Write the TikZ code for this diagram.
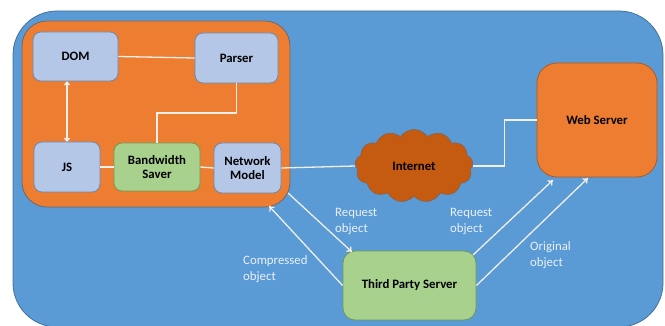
\documentclass[tikz,border=0pt]{standalone}
\usepackage{fontspec}
\setmainfont{Carlito}
\usetikzlibrary{shapes.symbols,arrows.meta}
\definecolor{skyblue}{HTML}{5B9BD5}
\definecolor{skyedge}{HTML}{41719C}
\definecolor{orangefill}{HTML}{ED7D31}
\definecolor{orangeedge}{HTML}{AE5A21}
\definecolor{paleblue}{HTML}{B4C7E7}
\definecolor{paleedge}{HTML}{6A8BB5}
\definecolor{palegreen}{HTML}{A9D18E}
\definecolor{greenedge}{HTML}{6E9A55}
\definecolor{rust}{HTML}{C55A11}
\definecolor{linklight}{HTML}{F2EEEA}
\definecolor{labellight}{HTML}{EAF0F8}
\tikzset{
  comp/.style={draw=paleedge, line width=0.8pt, fill=paleblue, rounded corners=8pt,
    inner sep=0pt, align=center, font=\fontsize{12.8}{14.5}\selectfont\bfseries},
  saver/.style={comp, draw=greenedge, fill=palegreen},
  server/.style={draw=orangeedge, line width=0.8pt, fill=orangefill, rounded corners=20pt,
    inner sep=0pt, align=center, font=\fontsize{12.8}{14.5}\selectfont\bfseries},
  link/.style={draw=linklight, line width=1.3pt},
  flow/.style={link, -{To[length=5pt,width=7pt]}},
  note/.style={text=labellight, align=left, anchor=north west, inner sep=0pt,
    font=\fontsize{12.8}{16.5}\selectfont}
}
\begin{document}
\begin{tikzpicture}[x=1pt,y=-1pt]
\useasboundingbox (0,0) rectangle (665,326);
% blue backdrop
\fill[skyblue, draw=skyedge, line width=0.8pt, rounded corners=44pt] (13,11) rectangle (663,327);
% browser container
\fill[orangefill, draw=skyedge!60!orangeedge, line width=0.8pt, rounded corners=25pt] (22,21) rectangle (290,207);

% browser components
\node[comp, minimum width=85pt, minimum height=49pt] (dom) at (75.5,56.5) {DOM};
\node[comp, minimum width=83pt, minimum height=50pt] (parser) at (236.5,58) {Parser};
\node[comp, minimum width=66pt, minimum height=50pt] (js) at (67,167) {JS};
\node[saver, minimum width=86pt, minimum height=48pt] (saver) at (157,167) {Bandwidth\\Saver};
\node[comp, minimum width=67pt, minimum height=50pt] (net) at (247.5,168) {Network\\Model};

% network side
\node[cloud, cloud puffs=13, cloud puff arc=110, aspect=1.6, draw=skyedge!50!rust, line width=0.6pt,
  fill=rust, minimum width=118pt, minimum height=73pt, inner sep=0pt,
  font=\fontsize{12.8}{14.5}\selectfont\bfseries] (cloud) at (414,166) {Internet};
\node[server, minimum width=120pt, minimum height=114pt] (web) at (597,120) {Web Server};
\node[saver, minimum width=133pt, minimum height=69pt, rounded corners=12pt] (third) at (409.5,285.5) {Third Party Server};

% wiring inside the browser
\draw[link] (dom.east) -- (parser.west);
\draw[link, {To[length=4pt,width=6pt]}-{To[length=4pt,width=6pt]}] (js.north) -- (js.north |- dom.south);
\draw[link] (parser.south) -- (parser.south |- 0,113) -| (saver.north);
\draw[link] (js.east) -- (saver.west);
\draw[link] (saver.east) -- (net.west);
\draw[link] (net.east) -- (cloud.west);
\draw[link] (cloud.east) -- ++(32,0) |- (web.west);

% request / response paths via the third party server
\coordinate (cmpTip) at (269,206);
\coordinate (reqOut) at (288,193);
\coordinate (reqIn) at (352,252);
\coordinate (fwdOut) at (473,255);
\coordinate (fwdTip) at (553,180);
\coordinate (origTip) at (588,178);
\draw[flow] (third.west) -- (cmpTip);
\draw[flow] (reqOut) -- (reqIn);
\draw[flow] (fwdOut) -- (fwdTip);
\draw[flow] (third.east) -- (origTip);

% path labels
\node[note] (lblReqA) at (335,208) {Request\\object};
\node[note] (lblCmp) at (243,255) {Compressed\\object};
\node[note] (lblReqB) at (450,208) {Request\\object};
\node[note] (lblOrig) at (530,241) {Original\\object};
\end{tikzpicture}
\end{document}
